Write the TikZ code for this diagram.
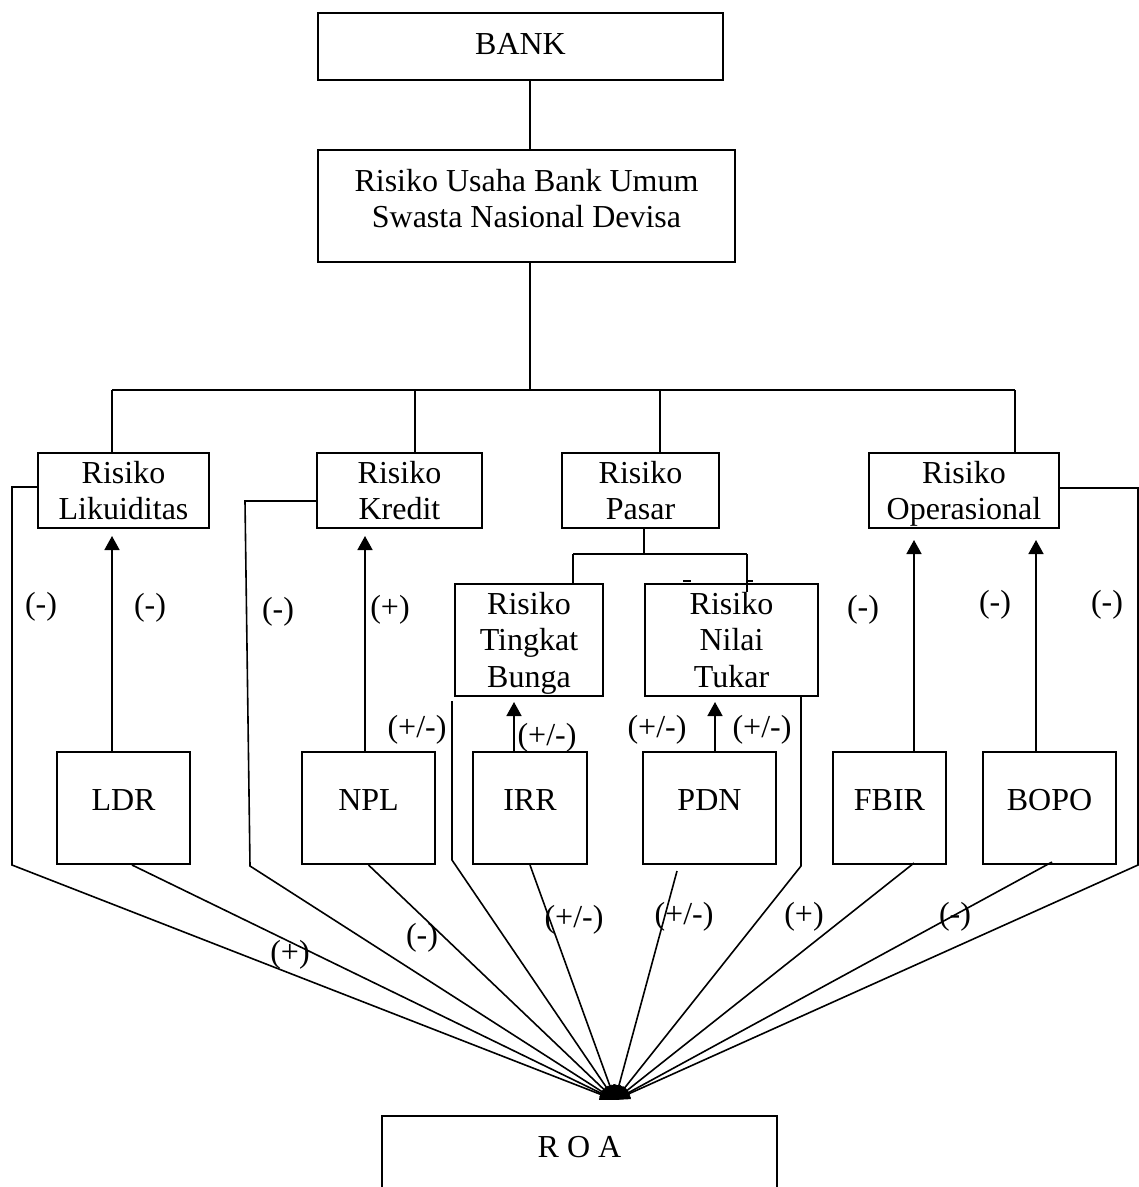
\documentclass[tikz,border=0pt]{standalone}
\usepackage{fontspec}
\setmainfont{Liberation Serif}
\usetikzlibrary{arrows.meta}
\begin{document}
\begin{tikzpicture}[x=1pt,y=-1pt,
  box/.style={draw, line width=2pt, align=center, inner sep=0pt, font=\fontsize{32}{36.5}\selectfont},
  lowbox/.style={box, minimum width=133pt, minimum height=112pt, text height=21pt, text depth=17pt},
  ln/.style={line width=1.6pt},
  up/.style={ln, -{Triangle[length=14pt,width=15pt]}},
  toroa/.style={ln, -{Triangle[length=15pt,width=11pt]}},
  lab/.style={font=\fontsize{32}{36.5}\selectfont, inner sep=0pt}
]
\useasboundingbox (0,0) rectangle (1139,1187);
\clip (0,0) rectangle (1139,1187);

% boxes
\node[box, minimum width=405pt, minimum height=67pt, text height=21pt, text depth=5.4pt] (bank) at (520.5,46.5) {BANK};
\node[box, minimum width=417pt, minimum height=112pt] (usaha) at (526.5,206) {Risiko Usaha Bank Umum\\Swasta Nasional Devisa\\[-21pt]\mbox{}};
\node[box, minimum width=171pt, minimum height=75pt] (liq) at (123.5,490.5) {Risiko\\Likuiditas};
\node[box, minimum width=165pt, minimum height=75pt] (kred) at (399.5,490.5) {Risiko\\Kredit};
\node[box, minimum width=157pt, minimum height=75pt] (pasar) at (640.5,490.5) {Risiko\\Pasar};
\node[box, minimum width=190pt, minimum height=75pt] (ops) at (964,490.5) {Risiko\\O\smash{p}erasional};
\node[box, minimum width=148pt, minimum height=112pt] (tb) at (529,640) {Risiko\\Tingkat\\Bun\smash{g}a};
\node[box, minimum width=173pt, minimum height=112pt] (nt) at (731.5,640) {Risiko\\Nilai\\Tukar};

\node[lowbox] (ldr) at (123.5,808) {LDR};
\node[lowbox] (npl) at (368.5,808) {NPL};
\node[lowbox, minimum width=114pt] (irr) at (530,808) {IRR};
\node[lowbox] (pdn) at (709.5,808) {PDN};
\node[lowbox, minimum width=113pt] (fbir) at (889.5,808) {FBIR};
\node[lowbox] (bopo) at (1049.5,808) {BOPO};

\node[box, line width=1.3pt, minimum width=395pt, minimum height=100pt, text height=21pt, text depth=39pt] (roa) at (579.5,1166) {R O A};

\coordinate (cv) at (615,1100);

% tree connectors
\draw[ln] (usaha.north -| 530,0) -- (bank.south -| 530,0);
\coordinate (busL) at (112,390);
\coordinate (busR) at (1015,390);
\coordinate (dk) at (415,390);
\coordinate (dp) at (660,390);
\draw[ln] (usaha.south -| 530,0) -- (busL -| 530,0);
\draw[ln] (busL) -- (busR);
\draw[ln] (busL) -- (busL |- liq.north);
\draw[ln] (dk) -- (dk |- kred.north);
\draw[ln] (dp) -- (dp |- pasar.north);
\draw[ln] (busR) -- (busR |- ops.north);

\coordinate (pj) at (644,554);
\coordinate (pl) at (573,554);
\coordinate (pr) at (747,554);
\draw[ln] (pj |- pasar.south) -- (pj);
\draw[ln] (pl) -- (pr);
\draw[ln] (pl) -- (pl |- tb.north);
\draw[ln] (pr) -- ++(0,38);
\draw[line width=2pt] (683,581) -- (691,581);
\draw[line width=2pt] (746,581) -- (753,581);

% upward arrows
\draw[up, shorten >=7pt] (ldr.north -| 112,0) -- (liq.south -| 112,0);
\draw[up, shorten >=7pt] (npl.north -| 365,0) -- (kred.south -| 365,0);
\draw[up, shorten >=5pt] (irr.north -| 514,0) -- (tb.south -| 514,0);
\draw[up, shorten >=5pt] (pdn.north -| 715,0) -- (nt.south -| 715,0);
\draw[up, shorten >=11pt] (fbir.north -| 914,0) -- (ops.south -| 914,0);
\draw[up, shorten >=11pt] (bopo.north -| 1036,0) -- (ops.south -| 1036,0);

% lines to ROA
\draw[toroa] (liq.west |- 0,487) -- (12,487) -- (12,865) -- (cv);
\draw[toroa] (kred.west |- 0,501) -- (245,501) -- (250,866) -- (cv);
\draw[toroa] (tb.south west -| 452,0) ++(0,4) -- (452,860) -- (cv);
\draw[toroa] (nt.south -| 801,0) -- (801,866) -- (cv);
\draw[toroa] (ops.east |- 0,488) -- (1138,488) -- (1138,865) -- (cv);

\draw[toroa] (ldr.south -| 132,0) -- (cv);
\draw[toroa] (npl.south) -- (cv);
\draw[toroa] (irr.south) -- (cv);
\draw[toroa] (pdn.south -| 677,0) ++(0,6) -- (cv);
\draw[toroa] (fbir.south -| 914,0) ++(0,-2) -- (cv);
\draw[toroa] (bopo.south -| 1052,0) ++(0,-3) -- (cv);

% labels
\node[lab] (s1) at (41,607) {(-)};
\node[lab] (s2) at (150,608) {(-)};
\node[lab] (s3) at (278,612) {(-)};
\node[lab] (s4) at (390,610) {(+)};
\node[lab] (s5) at (417,730) {(+/-)};
\node[lab] (s6) at (547,738) {(+/-)};
\node[lab] (s7) at (657,730) {(+/-)};
\node[lab] (s8) at (762,730) {(+/-)};
\node[lab] (s9) at (863,610) {(-)};
\node[lab] (s10) at (995,605) {(-)};
\node[lab] (s11) at (1107,605) {(-)};

\node[lab] (b1) at (290,955) {(+)};
\node[lab] (b2) at (422,938) {(-)};
\node[lab] (b3) at (574,920) {(+/-)};
\node[lab] (b4) at (684,917) {(+/-)};
\node[lab] (b5) at (804,917) {(+)};
\node[lab] (b6) at (955,917) {(-)};
\end{tikzpicture}
\end{document}
